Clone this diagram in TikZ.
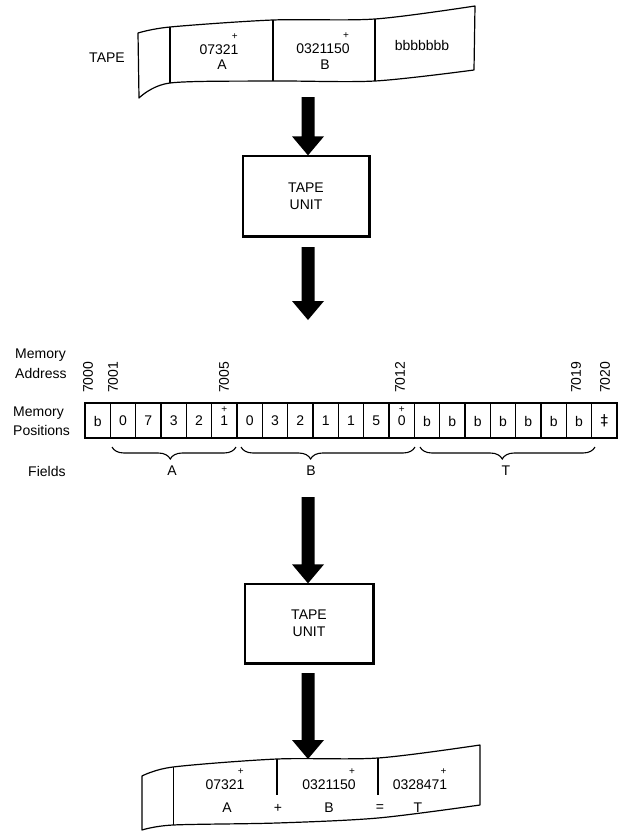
\documentclass[tikz,border=0pt]{standalone}
\usepackage{fontspec}
\setmainfont{Liberation Sans}
\newfontfamily\symfont{DejaVu Sans}
\usetikzlibrary{decorations.pathreplacing,calc}
\newcommand\bigarrow[2]{\fill let \p1=(#1), \p2=(#2) in
  (\x1-6.5pt,\y1) -- (\x1+6.5pt,\y1) -- (\x1+6.5pt,\y2+19pt) -- (\x1+16pt,\y2+19pt)
  -- (\x1,\y2) -- (\x1-16pt,\y2+19pt) -- (\x1-6.5pt,\y2+19pt) -- cycle;}
\tikzset{
  lbl/.style={font=\fontsize{14}{16}\selectfont, inner sep=0pt},
  addr/.style={font=\fontsize{14}{16}\selectfont, inner sep=0pt, rotate=90, anchor=west},
  celltxt/.style={font=\fontsize{14}{16}\selectfont, inner sep=0pt},
  plus/.style={font=\fontsize{10}{11}\selectfont, inner sep=0pt},
  unitbox/.style={draw, line width=1.3pt, align=center, inner sep=0pt,
    font=\fontsize{14}{17}\selectfont},
  tapeline/.style={line width=1.2pt, line join=round},
  rowline/.style={line width=1.2pt},
  fieldbrace/.style={decorate, decoration={brace, mirror, amplitude=12pt, aspect=#1}, line width=1.1pt},
}
\begin{document}
\begin{tikzpicture}[x=1pt,y=-1pt]
\fill[white] (0,0) rectangle (618,833);
\useasboundingbox (0,0) rectangle (618,833);

% ---------- top tape ----------
\draw[tapeline] plot[smooth] coordinates {(138,33) (170,27) (273,20) (375,19) (475,6)}
  -- plot[smooth] coordinates {(474,70) (375,81) (273,81) (170,83) (139,98)} -- cycle;
\draw[tapeline] (170,27) -- (170,83);
\draw[tapeline] (273,20) -- (273,81);
\draw[tapeline] (375,19) -- (375,81);
\node[lbl] (tapelbl) at (107,58) {TAPE};
\node[lbl] (ta) at (219,50) {07321};
\node[plus] (tap) at ([xshift=-3.8pt,yshift=8pt]ta.north east) {+};
\node[lbl] (tA) at (222,65) {A};
\node[lbl] (tb) at (323,49) {0321150};
\node[plus] (tbp) at ([xshift=-3.8pt,yshift=8pt]tb.north east) {+};
\node[lbl] (tB) at (325,65) {B};
\node[lbl] (tbl) at (422,45) {bbbbbbb};

% ---------- tape unit 1 ----------
\node[unitbox, minimum width=126pt, minimum height=80pt] (box1) at (306,196) {TAPE\\UNIT};
\draw[line width=2.4pt] (box1.north east) -- (box1.south east) -- (box1.south west);
\coordinate (a1s) at (308,97);
\bigarrow{a1s}{box1.north}
\coordinate (a2s) at (308,247);
\coordinate (a2e) at (308,320);
\bigarrow{a2s}{a2e}

% ---------- memory ----------
\node[lbl, anchor=west] (mem1) at (15,355) {Memory};
\node[lbl, anchor=west] (mem2) at (15,373) {Address};
\node[lbl, anchor=west] (pos1) at (13,413) {Memory};
\node[lbl, anchor=west] (pos2) at (13,430) {Positions};

\node[addr] (ad0) at (88,393) {7000};
\node[addr] (ad1) at (113,393) {7001};
\node[addr] (ad5) at (224,393) {7005};
\node[addr] (ad12) at (400,393) {7012};
\node[addr] (ad19) at (576,393) {7019};
\node[addr] (ad20) at (605,393) {7020};

\draw[rowline] (85,403) rectangle (617,438);
\foreach \k in {1,...,20} {
  \pgfmathsetmacro\bx{85+25.333*\k}
  \draw[rowline] (\bx,403) -- (\bx,438);
}
\foreach \t [count=\k from 0] in {b,0,7,3,2,1,0,3,2,1,1,5,0,b,b,b,b,b,b,b} {
  \node[celltxt] (c\k) at ({85+25.333*(\k+0.5)},421) {\t};
}
\node[celltxt, font=\fontsize{15}{16}\selectfont] (c20) at (604.3,421) {\symfont ‡};
\node[plus] (p5) at (224.3,410) {+};
\node[plus] (p12) at (401.7,410) {+};

\draw[fieldbrace=0.47] (112,447) -- (236,447);
\draw[fieldbrace=0.40] (241,447) -- (415,447);
\draw[fieldbrace=0.47] (420,447) -- (595,447);

\node[lbl, anchor=west] (fields) at (28,471) {Fields};
\node[lbl] (fA) at (172,471) {A};
\node[lbl] (fB) at (311,471) {B};
\node[lbl] (fT) at (506,471) {T};

% ---------- tape unit 2 ----------
\node[unitbox, minimum width=128pt, minimum height=79pt] (box2) at (309,623.5) {TAPE\\UNIT};
\draw[line width=2.4pt] (box2.north east) -- (box2.south east) -- (box2.south west);
\coordinate (a3s) at (308,497);
\bigarrow{a3s}{box2.north}
\coordinate (a4s) at (308,673);
\coordinate (tape2top) at (308,759);
\bigarrow{a4s}{tape2top}

% ---------- bottom tape ----------
\draw[tapeline] plot[smooth] coordinates {(142,776) (173,767) (277,759) (378,758) (480,745)}
  -- plot[smooth] coordinates {(480,805) (378,818) (277,823) (173,825) (142,830)} -- cycle;
\draw[line width=0.9pt] (173,767) -- (173,825);
\draw[line width=1.6pt] (277,759) -- (277,795);
\draw[line width=1.6pt] (378,758) -- (378,795);
\node[lbl] (ba) at (225,785) {07321};
\node[plus] (bap) at ([xshift=-3.8pt,yshift=8pt]ba.north east) {+};
\node[lbl] (bb) at (329,785) {0321150};
\node[plus] (bbp) at ([xshift=-3.8pt,yshift=8pt]bb.north east) {+};
\node[lbl] (bt) at (420,785) {0328471};
\node[plus] (btp) at ([xshift=-3.8pt,yshift=8pt]bt.north east) {+};
\node[lbl] (bA) at (227,808) {A};
\node[lbl] (bplus) at (278,808) {+};
\node[lbl] (bB) at (329,808) {B};
\node[lbl] (beq) at (380,808) {=};
\node[lbl] (bT) at (418,808) {T};
\end{tikzpicture}
\end{document}
